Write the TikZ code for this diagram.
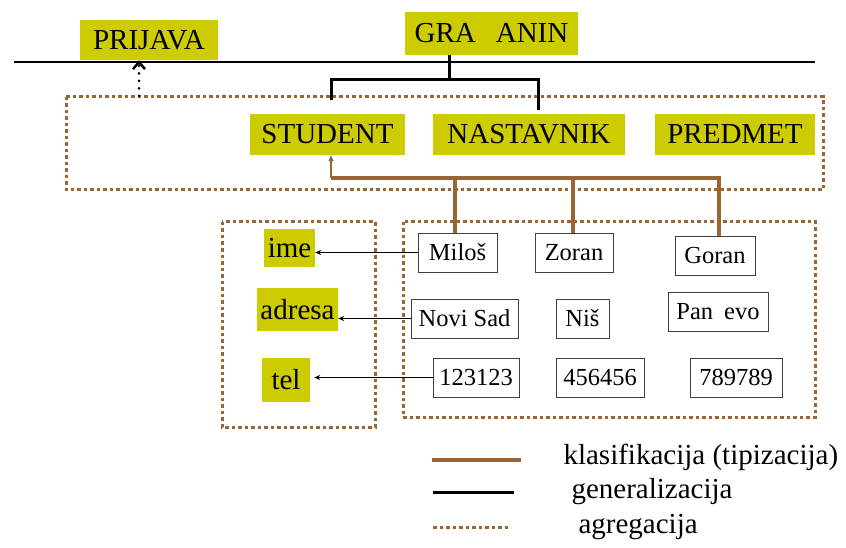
\documentclass[tikz,border=0pt]{standalone}
\usepackage{fontspec}
\setmainfont{Liberation Serif}
\usepackage{xcolor}
\usetikzlibrary{arrows.meta, positioning, calc}
\definecolor{olive}{RGB}{204,204,0}
\definecolor{brn}{RGB}{153,102,51}

\begin{document}
\begin{tikzpicture}[x=1pt, y=-1pt,
    ent/.style={fill=olive, inner sep=0pt, font=\fontsize{29}{32}\selectfont},
    val/.style={draw=black!75, line width=0.8pt, fill=white, inner sep=0pt, font=\fontsize{24.5}{27}\selectfont},
    gen/.style={line width=3pt},
    kls/.style={brn, line width=3.5pt},
    agr/.style={brn, line width=3pt, dash pattern=on 3.5pt off 3pt},
    lbl/.style={anchor=west, font=\fontsize{29}{32}\selectfont}]
\useasboundingbox (0,0) rectangle (846,548);
% Upper level
\node[ent, minimum width=138, minimum height=40] (prijava) at (149, 40) {PRIJAVA};
\node[ent, minimum width=173, minimum height=43] (gradjanin) at (491.5, 33.5) {GRA\hspace{20pt}ANIN};
\draw[line width=2pt] (14, 62) -- (815, 62);
% Aggregation frame
\draw[agr] (66, 97) rectangle (823, 190);
\node[ent, minimum width=155, minimum height=41] (student) at (327.5, 134.5) {STUDENT};
\node[ent, minimum width=192, minimum height=41] (nastavnik) at (529, 134.5) {NASTAVNIK};
\node[ent, minimum width=160, minimum height=41] (predmet) at (735, 134.5) {PREDMET};
% Generalization
\coordinate (g) at (449, 80);
\draw[gen] (gradjanin.south -| g) -- (g);
\draw[gen] (331, 100) -- (331, 80) -- (538, 80) -- (538, 110);
% Aggregation arrow
\draw[black, line width=3pt, line cap=round, dash pattern=on 0pt off 7.5pt, -{Straight Barb[length=7pt, width=12pt, line width=2.5pt]}] (139, 96) -- (prijava.south -| 139, 0);
% Attribute frame
\draw[agr] (222, 222) rectangle (375, 427);
\node[ent, minimum width=51, minimum height=38] (ime) at (289.5, 248) {ime};
\node[ent, minimum width=81, minimum height=43] (adresa) at (297.5, 309.5) {adresa};
\node[ent, minimum width=48, minimum height=44] (tel) at (286, 380) {tel};
% Instances
\draw[agr] (403, 222) rectangle (815, 417);
\node[val, minimum width=79, minimum height=39] (milos) at (457.5, 252.5) {Miloš};
\node[val, minimum width=78, minimum height=39] (zoran) at (574, 252.5) {Zoran};
\node[val, minimum width=80, minimum height=39] (goran) at (715, 255.5) {Goran};
\node[val, minimum width=107, minimum height=39] (novisad) at (464.5, 318.5) {Novi Sad};
\node[val, minimum width=53, minimum height=39] (nis) at (582.5, 318.5) {Niš};
\node[val, minimum width=100, minimum height=39] (pancevo) at (718, 311.5) {Pan\hspace{11pt}evo};
\node[val, minimum width=86, minimum height=39] (tel1) at (476, 377.5) {123123};
\node[val, minimum width=88, minimum height=39] (tel2) at (600, 377.5) {456456};
\node[val, minimum width=92, minimum height=39] (tel3) at (736, 377.5) {789789};
% Classification
\draw[kls] (331, 178) -- (719, 178);
\draw[brn, line width=1.2pt, -{Triangle[length=6pt, width=5pt]}] (331, 178) -- (student.south -| 331, 0);
\draw[kls] (455, 178) -- (milos.north -| 455, 0);
\draw[kls] (573, 178) -- (zoran.north -| 573, 0);
\draw[kls] (719, 176.25) -- (goran.north -| 719, 0);
% Attribute arrows
\draw[line width=0.8pt, -{Stealth[length=6pt, width=5pt]}] (milos.west) -- (ime.east |- milos.west);
\draw[line width=0.8pt, -{Stealth[length=6pt, width=5pt]}] (novisad.west) -- (adresa.east |- novisad.west);
\draw[line width=0.8pt, -{Stealth[length=6pt, width=5pt]}] (tel1.west) -- ($(tel.east |- tel1.west)+(4,0)$);
% Legend
\coordinate (l1) at (432, 460);
\coordinate (l2) at (433, 492);
\coordinate (l3) at (433, 527);
\draw[kls] (l1) -- ++(89, 0);
\draw[gen] (l2) -- ++(81, 0);
\draw[agr] (l3) -- ++(77, 0);
\node[lbl] (tkls) at (560, 457) {klasifikacija (tipizacija)};
\node[lbl] (tgen) at (568, 492) {generalizacija};
\node[lbl] (tagr) at (575, 527) {agregacija};
\end{tikzpicture}
\end{document}
